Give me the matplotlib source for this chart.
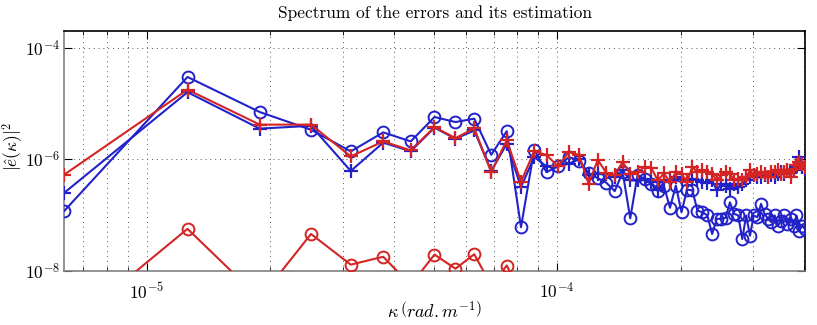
import numpy as np
import matplotlib
matplotlib.use("Agg")
import matplotlib.pyplot as plt
from matplotlib.ticker import FixedLocator, FuncFormatter, NullFormatter

plt.rcParams['mathtext.fontset'] = 'cm'

# wavenumber grid: index n times spectral resolution
n_index = np.arange(1, 65)
dk = 2 * np.pi * 1e-6
kappa = n_index * dk

blue_circle = [1.18e-7, 3.0e-5, 7.06e-6, 3.4e-6, 1.39e-6, 3.05e-6, 2.1e-6, 5.75e-6, 4.67e-6, 5.37e-6,
               1.21e-6, 3.2e-6, 6.1e-8, 1.5e-6, 5.9e-7, 7.5e-7, 1.1e-6, 9.5e-7, 5.7e-7, 4.6e-7,
               3.8e-7, 2.7e-7, 5.9e-7, 8.8e-8, 5.2e-7, 4.5e-7, 3.65e-7, 2.7e-7, 3.3e-7, 1.36e-7,
               3.4e-7, 1.13e-7, 2.85e-7, 2.8e-7, 1.21e-7, 1.13e-7, 9.9e-8, 4.6e-8, 8.6e-8, 8.6e-8,
               9.0e-8, 1.7e-7, 1.06e-7, 9.9e-8, 3.75e-8, 9.9e-8, 4.3e-8, 9.9e-8, 9.2e-8, 1.6e-7,
               1.06e-7, 8.6e-8, 7.5e-8, 9.9e-8, 6.5e-8, 8.0e-8, 9.9e-8, 7.0e-8, 8.6e-8, 6.5e-8,
               9.9e-8, 5.3e-8, 6.5e-8, 5.7e-8]

blue_plus = [2.5e-7, 1.6e-5, 3.56e-6, 4.0e-6, 6.2e-7, 2.0e-6, 1.4e-6, 3.7e-6, 2.35e-6, 3.3e-6,
             6.2e-7, 1.9e-6, 3.2e-7, 1.1e-6, 7.5e-7, 7.5e-7, 8.4e-7, 1.0e-6, 5.2e-7, 5.5e-7,
             5.5e-7, 4.8e-7, 6.35e-7, 4.2e-7, 4.2e-7, 4.5e-7, 3.9e-7, 2.8e-7, 3.9e-7, 4.2e-7,
             4.8e-7, 4.5e-7, 4.2e-7, 4.5e-7, 4.2e-7, 3.9e-7, 3.75e-7, 4.2e-7, 2.8e-7, 3.65e-7,
             3.4e-7, 3.0e-7, 3.65e-7, 3.2e-7, 3.65e-7, 4.2e-7, 4.8e-7, 5.2e-7, 4.8e-7, 4.8e-7,
             5.2e-7, 4.8e-7, 5.2e-7, 4.8e-7, 5.5e-7, 5.9e-7, 5.5e-7, 6.35e-7, 5.9e-7, 6.35e-7,
             7.3e-7, 1.1e-6, 7.3e-7, 6.8e-7]

red_plus = [5.3e-7, 1.78e-5, 4.2e-6, 4.2e-6, 1.13e-6, 2.1e-6, 1.45e-6, 3.8e-6, 2.4e-6, 3.6e-6,
            5.9e-7, 2.2e-6, 4.0e-7, 1.4e-6, 1.2e-6, 7.5e-7, 1.35e-6, 1.2e-6, 3.66e-7, 9.8e-7,
            5.7e-7, 5.3e-7, 9.0e-7, 5.5e-7, 5.9e-7, 7.3e-7, 7.1e-7, 4.2e-7, 5.6e-7, 3.9e-7,
            5.9e-7, 5.5e-7, 3.9e-7, 7.3e-7, 5.9e-7, 6.35e-7, 5.9e-7, 5.5e-7, 4.2e-7, 5.2e-7,
            5.9e-7, 5.5e-7, 4.2e-7, 4.5e-7, 4.2e-7, 4.8e-7, 6.35e-7, 5.2e-7, 5.5e-7, 5.9e-7,
            5.5e-7, 4.8e-7, 5.9e-7, 5.9e-7, 6.35e-7, 5.5e-7, 5.9e-7, 6.35e-7, 4.8e-7, 6.8e-7,
            7.8e-7, 8.95e-7, 8.35e-7, 7.3e-7]

red_circle = [8.5e-10, 5.7e-8, 3.2e-9, 4.6e-8, 1.3e-8, 1.8e-8, 5.6e-9, 1.97e-8, 1.1e-8, 2.0e-8,
              5.5e-9, 1.25e-8, 4.0e-9, 3.0e-9, 2.5e-9, 3.5e-9, 2.0e-9, 3.0e-9, 2.2e-9, 2.8e-9,
              1.8e-9, 2.4e-9, 2.0e-9, 1.5e-9, 2.1e-9, 1.9e-9, 1.6e-9, 2.2e-9, 1.4e-9, 1.7e-9,
              1.5e-9, 1.3e-9, 1.6e-9, 1.2e-9, 1.4e-9, 1.1e-9, 1.3e-9, 1.0e-9, 1.2e-9, 1.1e-9,
              9.0e-10, 1.0e-9, 8.5e-10, 9.5e-10, 8.0e-10, 9.0e-10, 7.5e-10, 8.5e-10, 7.0e-10, 8.0e-10,
              7.5e-10, 6.5e-10, 7.0e-10, 6.0e-10, 6.5e-10, 5.5e-10, 6.0e-10, 5.0e-10, 5.5e-10, 4.5e-10,
              5.0e-10, 4.0e-10, 4.5e-10, 4.0e-10]

title_text = "Spectrum of the errors and its estimation"
xlabel_text = r"$\kappa\,\left(rad.m^{-1}\right)$"
ylabel_text = r"$|\hat{e}(\kappa)|^{2}$"

BLUE = '#2222c8'
RED = '#d42424'

fig = plt.figure(figsize=(8.17, 3.25), dpi=100)
ax = fig.add_axes([64/817, 1-271/325, (805-64)/817, (271-31)/325])
ax.set_xscale('log')
ax.set_yscale('log')

lw = 1.5
ms = 8.5
ax.plot(kappa, blue_circle, color=BLUE, lw=lw, marker='o', ms=ms, mfc='none', mew=1.4, zorder=3)
ax.plot(kappa, blue_plus, color=BLUE, lw=lw, marker='+', ms=ms+1, mew=1.6, zorder=4)
ax.plot(kappa, red_circle, color=RED, lw=lw, marker='o', ms=ms, mfc='none', mew=1.4, zorder=5)
ax.plot(kappa, red_plus, color=RED, lw=lw, marker='+', ms=ms+1, mew=1.6, zorder=6)

ax.set_xlim(kappa[0], kappa[-1])
ax.set_ylim(1e-8, 2e-4)

# ticks
ax.xaxis.set_major_locator(FixedLocator([1e-5, 1e-4]))
xminor = [7e-6, 8e-6, 9e-6] + [m * 1e-5 for m in range(2, 10)] + [m * 1e-4 for m in range(2, 5)]
ax.xaxis.set_minor_locator(FixedLocator(xminor))
ax.xaxis.set_minor_formatter(NullFormatter())
ax.yaxis.set_major_locator(FixedLocator([1e-8, 1e-6, 1e-4]))
ax.yaxis.set_minor_locator(FixedLocator([]))
fmt = FuncFormatter(lambda v, p: r"$10^{%d}$" % int(round(np.log10(v))))
ax.xaxis.set_major_formatter(fmt)
ax.yaxis.set_major_formatter(fmt)
ax.tick_params(which='both', direction='in', top=True, right=True, labelsize=12.5)
ax.tick_params(which='major', length=6, width=0.8)
ax.tick_params(which='minor', length=3, width=0.6)
ax.tick_params(axis='x', pad=8)
ax.tick_params(axis='y', pad=2.5)

ax.grid(True, which='major', axis='both', linestyle=(0, (1, 4)), color='#555555', lw=0.7)
ax.grid(True, which='minor', axis='x', linestyle=(0, (1, 4)), color='#555555', lw=0.7)

for s in ['left', 'bottom']:
    ax.spines[s].set_color('#808080')
    ax.spines[s].set_linewidth(1.2)
for s in ['top', 'right']:
    ax.spines[s].set_color('black')
    ax.spines[s].set_linewidth(1.2)

ax.set_title(title_text, fontfamily='cmr10', fontsize=12.5, pad=9)
ax.set_xlabel(xlabel_text, fontsize=13)
ax.xaxis.set_label_coords(0.5, -0.125)
ax.set_ylabel(ylabel_text, fontsize=12.5)
ax.yaxis.set_label_coords(-0.053, 0.52)

fig.savefig('out.png', dpi=100)
